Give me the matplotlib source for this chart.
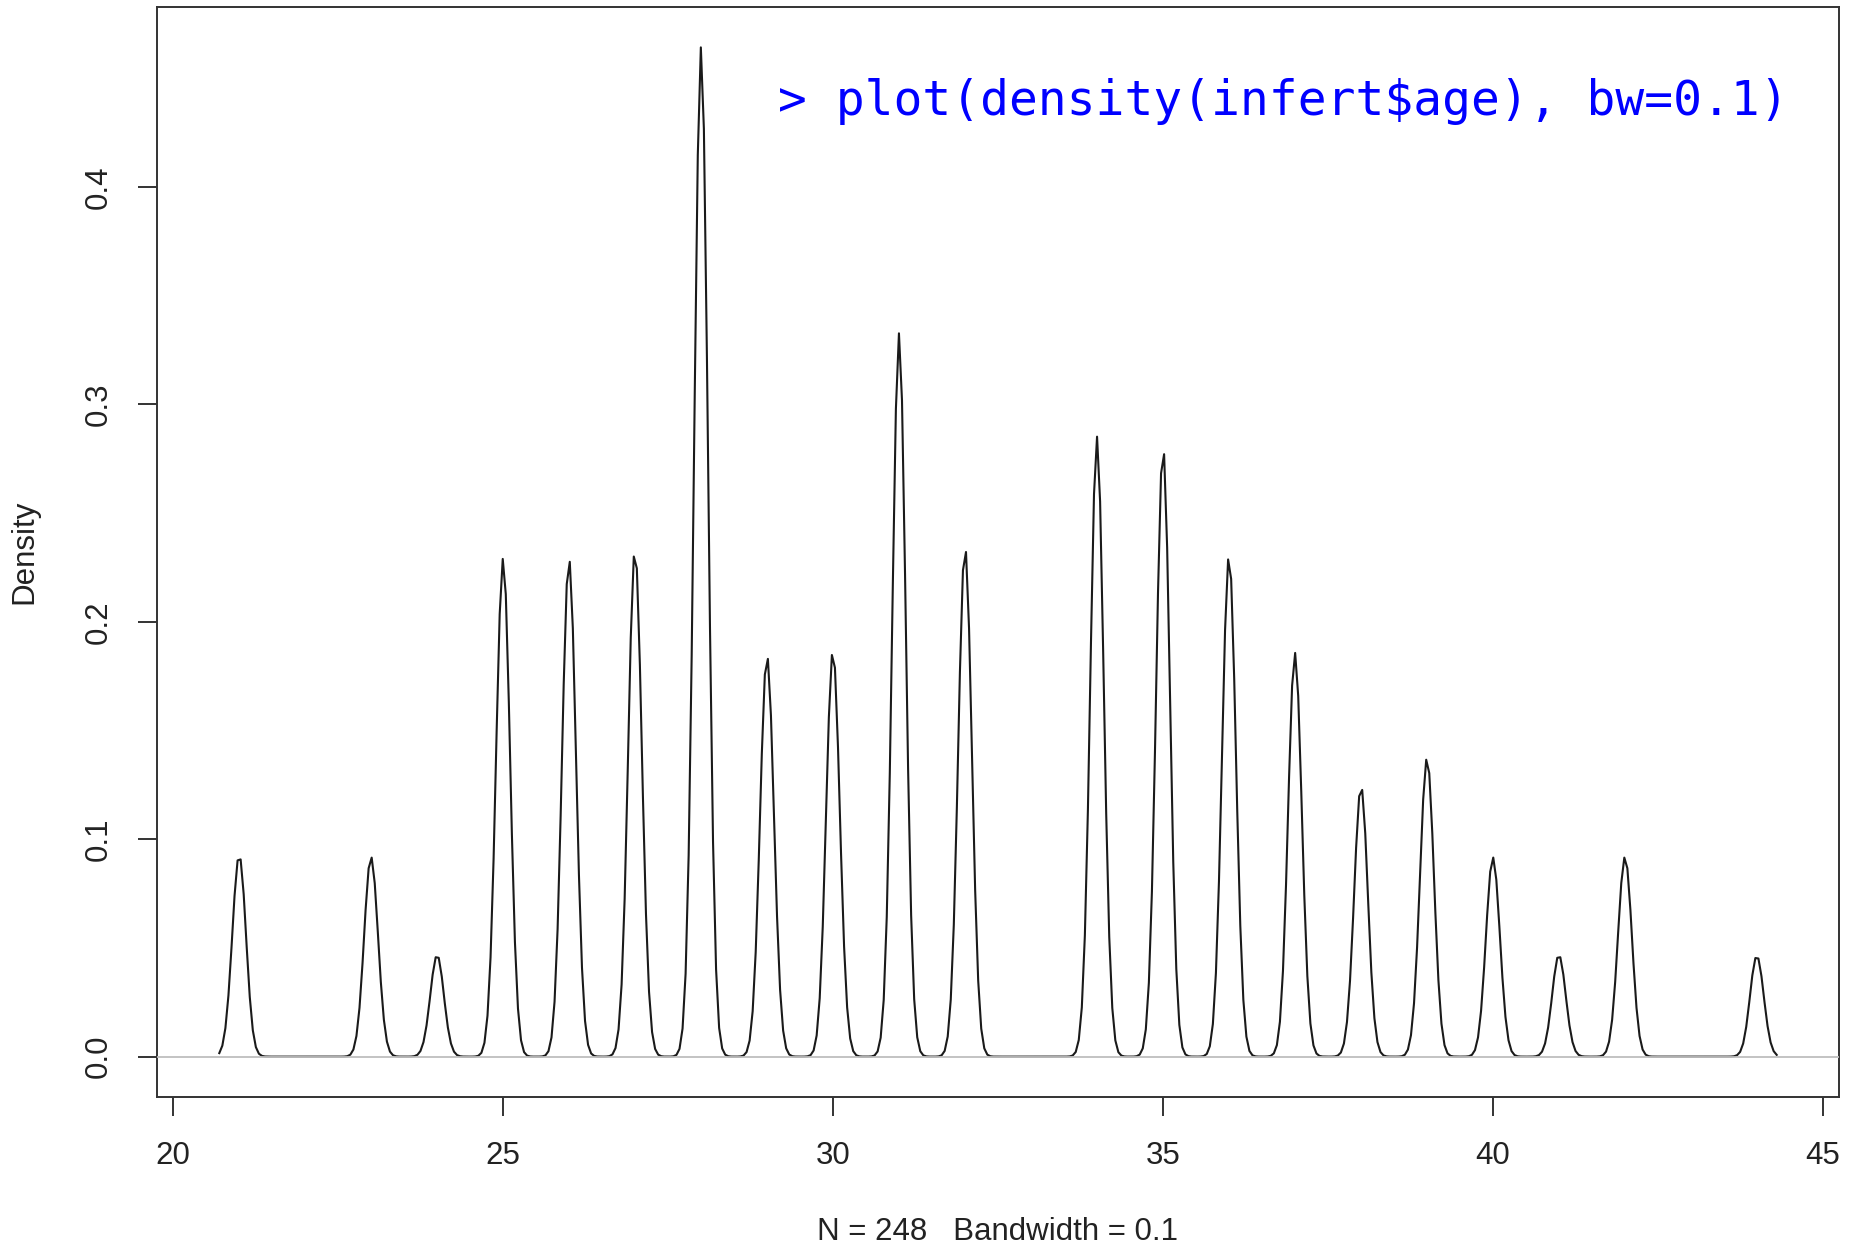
import numpy as np
import matplotlib
matplotlib.use("Agg")
import matplotlib.pyplot as plt

# infert$age: counts per age (N = 248)
ages = [21, 23, 24, 25, 26, 27, 28, 29, 30, 31, 32, 34, 35, 36, 37, 38, 39, 40, 41, 42, 44]
counts = [6, 6, 3, 15, 15, 15, 30, 12, 12, 21, 15, 18, 18, 15, 12, 8, 9, 6, 3, 6, 3]
bw = 0.1
x_ticks = [20, 25, 30, 35, 40, 45]
y_ticks = [0.0, 0.1, 0.2, 0.3, 0.4]
y_ticklabels = ["0.0", "0.1", "0.2", "0.3", "0.4"]


def r_density(values, bw, n=512, cut=3):
    # same steps as R's density.default (linear binning + fft convolution)
    values = np.asarray(values, dtype=float)
    N = len(values)
    frm = values.min() - cut * bw
    to = values.max() + cut * bw
    lo = frm - 4 * bw
    up = to + 4 * bw
    y = np.zeros(2 * n)
    xdelta = (up - lo) / (n - 1)
    for v in values:
        xpos = (v - lo) / xdelta
        ix = int(np.floor(xpos))
        fx = xpos - ix
        if 0 <= ix <= n - 2:
            y[ix] += (1 - fx) / N
            y[ix + 1] += fx / N
    kords = np.linspace(0, 2 * (up - lo), 2 * n)
    kords[n + 1:] = -kords[n - 1:0:-1]
    kords = np.exp(-0.5 * (kords / bw) ** 2) / (bw * np.sqrt(2 * np.pi))
    conv = np.fft.ifft(np.fft.fft(y) * np.conj(np.fft.fft(kords))).real
    conv = np.maximum(0, conv[:n])
    xords = np.linspace(lo, up, n)
    xs = np.linspace(frm, to, n)
    return xs, np.interp(xs, xords, conv)


xs, dens = r_density(np.repeat(ages, counts), bw)

plt.rcParams["font.family"] = ["Liberation Sans", "DejaVu Sans"]

fig = plt.figure(figsize=(18.61, 12.49), dpi=100)
ax = fig.add_axes([157 / 1861, 152 / 1249, 1682 / 1861, 1090 / 1249])

ax.plot(xs, dens, color="#1a1a1a", lw=1.5, zorder=2)
# R draws the zero line after the curve
ax.axhline(0, color="#bebebe", lw=1.3, zorder=3)

rx = xs.max() - xs.min()
ax.set_xlim(xs.min() - 0.04 * rx, xs.max() + 0.04 * rx)
ry = dens.max()
ax.set_ylim(-0.04 * ry, ry * 1.04)

ax.set_xticks(x_ticks)
ax.set_xticklabels([str(t) for t in x_ticks])
ax.set_yticks(y_ticks)
ax.set_yticklabels(y_ticklabels, rotation=90, va="center")
ax.tick_params(axis="both", direction="out", length=13.5, width=1.4,
               color="#333333", labelsize=22.5, labelcolor="#222222")
ax.tick_params(axis="x", pad=18)
ax.tick_params(axis="y", pad=18)

for s in ax.spines.values():
    s.set_linewidth(1.4)
    s.set_color("#333333")

fig.text(997 / 1861, 1 - 1232 / 1249, "N = 248   Bandwidth = 0.1",
         ha="center", va="center", fontsize=22.5, color="#222222")
fig.text(24 / 1861, 1 - 552 / 1249, "Density", rotation=90,
         ha="center", va="center", fontsize=22.5, color="#222222")

ax.text(0.970, 0.9135, "> plot(density(infert$age), bw=0.1)",
        transform=ax.transAxes, ha="right", va="center",
        fontsize=34.5, color="#0000ff", family="DejaVu Sans Mono")

fig.savefig("out.png", dpi=100)
